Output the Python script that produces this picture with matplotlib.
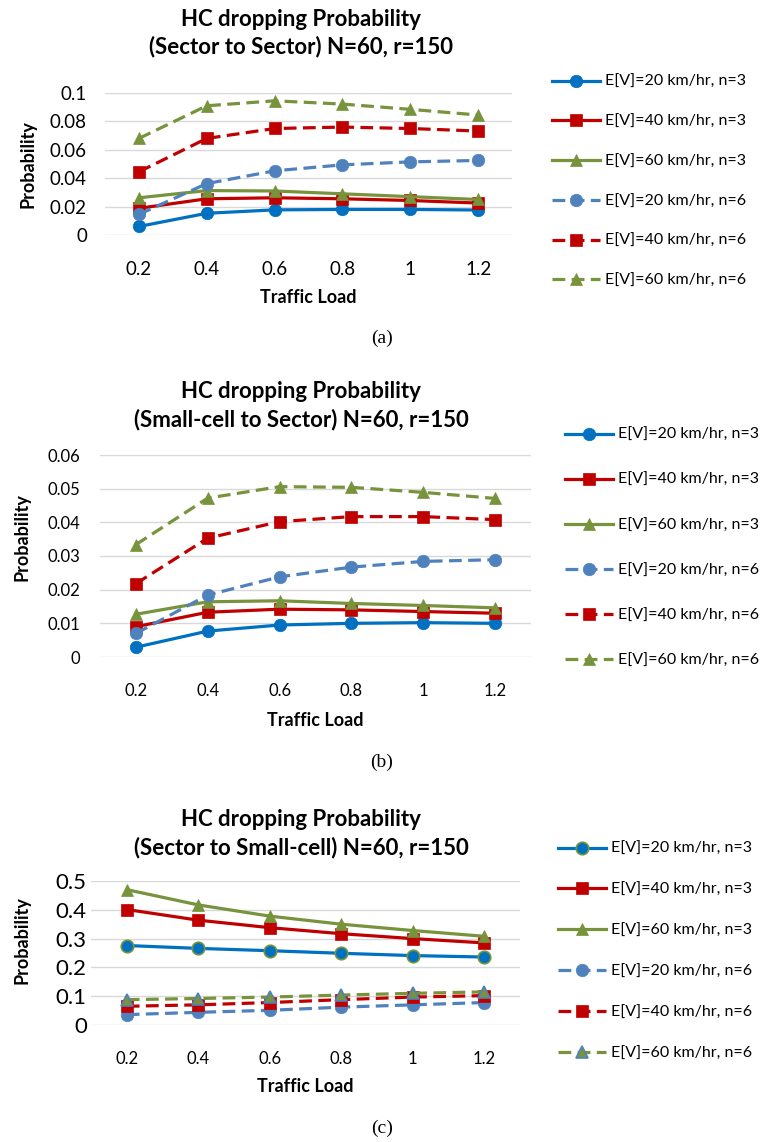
import numpy as np
import matplotlib
matplotlib.use('Agg')
import matplotlib.pyplot as plt
from matplotlib.ticker import FuncFormatter

plt.rcParams['font.family'] = ['Lato', 'DejaVu Sans']

W, H = 767, 1142

# Данные
loads = ['0.2', '0.4', '0.6', '0.8', '1', '1.2']
series_labels = ['E[V]=20 km/hr, n=3', 'E[V]=40 km/hr, n=3', 'E[V]=60 km/hr, n=3',
                 'E[V]=20 km/hr, n=6', 'E[V]=40 km/hr, n=6', 'E[V]=60 km/hr, n=6']

# (a) Sector to Sector
a_v20_n3 = [0.006, 0.0153, 0.0177, 0.018, 0.018, 0.0176]
a_v40_n3 = [0.0188, 0.0255, 0.0262, 0.0255, 0.0243, 0.0225]
a_v60_n3 = [0.0262, 0.0313, 0.031, 0.029, 0.027, 0.025]
a_v20_n6 = [0.0145, 0.0362, 0.0452, 0.0494, 0.0515, 0.0525]
a_v40_n6 = [0.0445, 0.068, 0.075, 0.076, 0.075, 0.0732]
a_v60_n6 = [0.068, 0.091, 0.0945, 0.0922, 0.0885, 0.0845]

# (b) Small-cell to Sector
b_v20_n3 = [0.0029, 0.0077, 0.0095, 0.01, 0.0102, 0.01]
b_v40_n3 = [0.009, 0.0133, 0.0142, 0.014, 0.0135, 0.013]
b_v60_n3 = [0.0127, 0.0164, 0.0167, 0.0159, 0.0153, 0.0146]
b_v20_n6 = [0.007, 0.0184, 0.0238, 0.0267, 0.0284, 0.0289]
b_v40_n6 = [0.0218, 0.0353, 0.0402, 0.0417, 0.0417, 0.0408]
b_v60_n6 = [0.0334, 0.0472, 0.0506, 0.0504, 0.0489, 0.0471]

# (c) Sector to Small-cell
c_v20_n3 = [0.276, 0.266, 0.258, 0.249, 0.241, 0.236]
c_v40_n3 = [0.401, 0.364, 0.338, 0.317, 0.3, 0.285]
c_v60_n3 = [0.47, 0.417, 0.378, 0.35, 0.328, 0.308]
c_v20_n6 = [0.036, 0.044, 0.051, 0.062, 0.07, 0.078]
c_v40_n6 = [0.065, 0.07, 0.078, 0.088, 0.097, 0.102]
c_v60_n6 = [0.088, 0.092, 0.097, 0.104, 0.11, 0.115]

colors = ['#0070C0', '#C00000', '#77933C', '#4F81BD', '#C00000', '#77933C']
markers = ['o', 's', '^', 'o', 's', '^']
styles = ['-', '-', '-', '--', '--', '--']


def box(l, t, r, b):
    return [l / W, 1 - b / H, (r - l) / W, (b - t) / H]


def px(x, y):
    return x / W, 1 - y / H


def panel(fig, rect, data, ymax, ystep, title2, ytl_size, ytl_pad, xtl_size,
          title_y, xlab_y, ylab_xy, leg_xy, leg_space, edges):
    ax = fig.add_axes(box(*rect))
    x = np.arange(len(loads))
    for i, vals in enumerate(data):
        kw = dict(color=colors[i], lw=2.3, marker=markers[i], ms=9,
                  mfc=colors[i], mec=edges[i], mew=1.2 if edges[i] != colors[i] else 0.5,
                  label=series_labels[i])
        if styles[i] == '--':
            kw['dashes'] = (4, 2)
        ax.plot(x, vals, **kw)
    ax.set_xlim(-0.5, len(loads) - 0.5)
    ax.set_ylim(0, ymax)
    ax.set_yticks(np.arange(0, ymax + ystep / 2, ystep))
    ax.yaxis.set_major_formatter(FuncFormatter(lambda v, p: '%g' % round(v, 4)))
    ax.set_xticks(x)
    ax.set_xticklabels(loads)
    ax.grid(axis='y', color='#D9D9D9', lw=1)
    ax.set_axisbelow(True)
    for s in ax.spines.values():
        s.set_visible(False)
    ax.tick_params(axis='y', length=0, pad=ytl_pad, labelsize=ytl_size)
    ax.tick_params(axis='x', length=0, pad=19, labelsize=xtl_size)

    cx = (rect[0] + rect[2]) / 2
    fig.text(*px(301, title_y[0]), 'HC dropping Probability', ha='center', va='center',
             fontsize=16, fontweight='bold')
    fig.text(*px(301, title_y[1]), title2, ha='center', va='center',
             fontsize=16, fontweight='bold')
    fig.text(*px(cx, xlab_y), 'Traffic Load', ha='center', va='center',
             fontsize=13, fontweight='bold')
    fig.text(*px(*ylab_xy), 'Probability', ha='center', va='center', rotation=90,
             fontsize=13, fontweight='bold')

    fig.legend(*ax.get_legend_handles_labels(), loc='upper left',
               bbox_to_anchor=px(*leg_xy), frameon=False, fontsize=11.5,
               handlelength=3.0, handletextpad=0.3, labelspacing=leg_space,
               borderaxespad=0, borderpad=0)
    return ax


fig = plt.figure(figsize=(W / 100, H / 100), dpi=100)

edges_ab = colors
edges_c = ['#77933C', '#C00000', '#77933C', '#4F81BD', '#C00000', '#4F81BD']

panel(fig, (105, 93, 512, 235), [a_v20_n3, a_v40_n3, a_v60_n3, a_v20_n6, a_v40_n6, a_v60_n6],
      0.1, 0.02, '(Sector to Sector) N=60, r=150', 13.5, 13, 13.5,
      (20, 47), 297, (28, 164), (552, 75), 1.6, edges_ab)
panel(fig, (100, 455, 531, 657), [b_v20_n3, b_v40_n3, b_v60_n3, b_v20_n6, b_v40_n6, b_v60_n6],
      0.06, 0.01, '(Small-cell to Sector) N=60, r=150', 12, 14, 12,
      (392, 420), 720, (22, 537), (565, 428), 1.94, edges_ab)
panel(fig, (91, 881, 520, 1025), [c_v20_n3, c_v40_n3, c_v60_n3, c_v20_n6, c_v40_n6, c_v60_n6],
      0.5, 0.1, '(Sector to Small-cell) N=60, r=150', 16, 3, 12,
      (820, 848), 1086, (22, 940), (558, 842), 1.67, edges_c)

# Подписи (a), (b), (c)
for lab, y in [('(a)', 338), ('(b)', 762), ('(c)', 1128)]:
    fig.text(*px(382, y), lab, ha='center', va='center', fontsize=14,
             family='Liberation Serif')

fig.savefig('out.png', dpi=100)
